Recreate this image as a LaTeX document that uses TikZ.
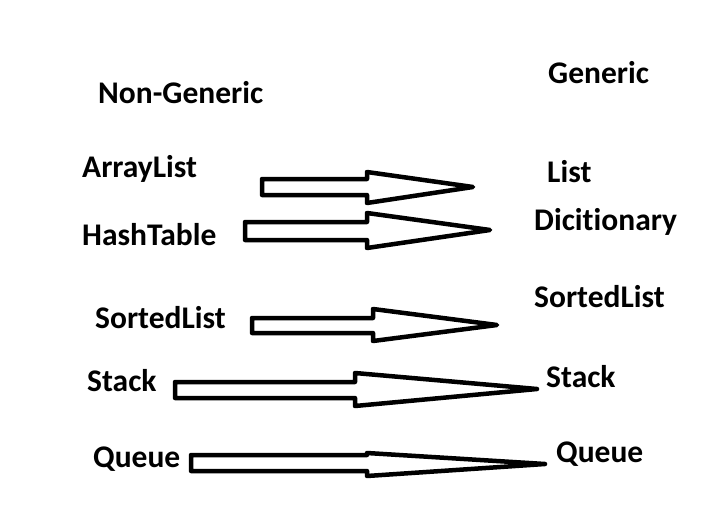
\documentclass[tikz,border=0pt]{standalone}
\usepackage{fontspec}
\setmainfont{Carlito}[RawFeature={-liga;-dlig;-clig}]
\begin{document}
\begin{tikzpicture}[x=1pt,y=-1pt,
  lbl/.style={anchor=base west,inner sep=0pt,font=\fontsize{31.5}{33}\selectfont\bfseries},
  barrow/.style={draw=black,line width=4.5pt,line join=round,fill=white}]
\useasboundingbox (0,0) rectangle (710,514);
% left labels
\node[lbl] (ng) at (98,103) {Non-Generic};
\node[lbl] (al) at (82,177) {ArrayList};
\node[lbl] (ht) at (82,245) {HashTable};
\node[lbl] (sl) at (95,328) {SortedList};
\node[lbl] (st) at (87,391) {Stack};
\node[lbl] (qu) at (93,467) {Queue};
% right labels
\node[lbl] (g) at (548,83) {Generic};
\node[lbl] (li) at (547,182) {List};
\node[lbl] (di) at (534,230) {Dicitionary};
\node[lbl] (sl2) at (534,307) {SortedList};
\node[lbl] (st2) at (546,387) {Stack};
\node[lbl] (qu2) at (556,462) {Queue};
% block arrows
\newcommand{\blockarrow}[8]{%
  \draw[barrow] (#1,#2) -- (#4,#2) -- (#4,#5) -- (#7,#8) -- (#4,#6) -- (#4,#3) -- (#1,#3) -- cycle;}
\blockarrow{262}{179}{195}{367}{172}{203}{473}{187}
\blockarrow{245}{222}{240}{367}{213}{248}{490}{230}
\blockarrow{252}{318}{333}{373}{309}{341}{497}{325}
\blockarrow{175}{382}{398}{355}{373}{406}{537}{389}
\blockarrow{191}{455}{471}{367}{453}{476}{545}{464}
\end{tikzpicture}
\end{document}
